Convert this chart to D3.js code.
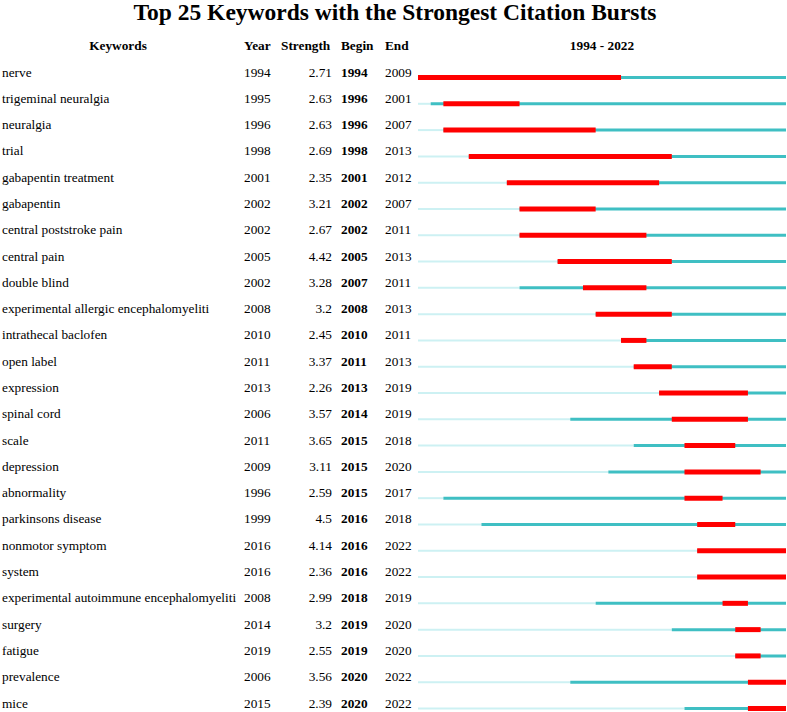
<!DOCTYPE html>
<html>
<head>
<meta charset="utf-8">
<script src="https://cdn.jsdelivr.net/npm/d3@7"></script>
<style>
    body { margin: 0; background: #fff; }
    svg { display: block; font-family: "Liberation Serif", "Times New Roman", serif; }
</style>
</head>
<body>
<div id="container"></div>
<script>
const keywords = ['nerve', 'trigeminal neuralgia', 'neuralgia', 'trial', 'gabapentin treatment',
    'gabapentin', 'central poststroke pain', 'central pain', 'double blind',
    'experimental allergic encephalomyeliti', 'intrathecal baclofen', 'open label', 'expression',
    'spinal cord', 'scale', 'depression', 'abnormality', 'parkinsons disease', 'nonmotor symptom',
    'system', 'experimental autoimmune encephalomyeliti', 'surgery', 'fatigue', 'prevalence', 'mice']
const years = [1994, 1995, 1996, 1998, 2001, 2002, 2002, 2005, 2002, 2008, 2010, 2011, 2013,
    2006, 2011, 2009, 1996, 1999, 2016, 2016, 2008, 2014, 2019, 2006, 2015]
const strengths = [2.71, 2.63, 2.63, 2.69, 2.35, 3.21, 2.67, 4.42, 3.28, 3.2, 2.45, 3.37, 2.26,
    3.57, 3.65, 3.11, 2.59, 4.5, 4.14, 2.36, 2.99, 3.2, 2.55, 3.56, 2.39]
const begins = [1994, 1996, 1996, 1998, 2001, 2002, 2002, 2005, 2007, 2008, 2010, 2011, 2013,
    2014, 2015, 2015, 2015, 2016, 2016, 2016, 2018, 2019, 2019, 2020, 2020]
const ends = [2009, 2001, 2007, 2013, 2012, 2007, 2011, 2013, 2011, 2013, 2011, 2013, 2019,
    2019, 2018, 2020, 2017, 2018, 2022, 2022, 2019, 2020, 2020, 2022, 2022]
const firstYear = 1994
const lastYear = 2022

const width = 787
const height = 712

const svg = d3.select('#container')
    .append('svg')
    .attr('width', width)
    .attr('height', height)

const dataset = keywords.map((k, i) => ({
    keyword: k, year: years[i], strength: strengths[i], begin: begins[i], end: ends[i]
}))

// one year = one slot, the end year is included
const xScale = d3.scaleLinear()
    .domain([firstYear, lastYear + 1])
    .range([418, 786])

const yScale = d3.scalePoint()
    .domain(keywords)
    .range([77.5, 708.5])

const fontSize = 13.3

svg.append('text')
    .attr('x', 395)
    .attr('y', 20)
    .attr('text-anchor', 'middle')
    .attr('font-weight', 'bold')
    .attr('font-size', 23.5)
    .text('Top 25 Keywords with the Strongest Citation Bursts')

// header
const header = svg.append('g')
    .attr('font-weight', 'bold')
    .attr('font-size', fontSize)
    .attr('transform', 'translate(0, 50)')

header.append('text').attr('x', 118).attr('text-anchor', 'middle').text('Keywords')
header.append('text').attr('x', 244).text('Year')
header.append('text').attr('x', 281).text('Strength')
header.append('text').attr('x', 341).text('Begin')
header.append('text').attr('x', 385).text('End')
header.append('text').attr('x', xScale((firstYear + lastYear + 1) / 2)).attr('text-anchor', 'middle')
    .text(`${firstYear} - ${lastYear}`)

const rows = svg.selectAll('g.row').data(dataset)
    .join('g')
    .attr('class', 'row')
    .attr('font-size', fontSize)
    .attr('transform', d => `translate(0, ${yScale(d.keyword)})`)

rows.append('text').attr('x', 2).attr('y', -1).text(d => d.keyword)
rows.append('text').attr('x', 244).attr('y', -1).text(d => d.year)
rows.append('text').attr('x', 332).attr('y', -1).attr('text-anchor', 'end').text(d => d.strength)
rows.append('text').attr('x', 341).attr('y', -1).attr('font-weight', 'bold').text(d => d.begin)
rows.append('text').attr('x', 385).attr('y', -1).text(d => d.end)

// before the keyword appears
rows.filter(d => d.year > firstYear)
    .append('line')
    .attr('x1', xScale(firstYear))
    .attr('x2', d => xScale(d.year))
    .attr('stroke', '#cdf1f3')
    .attr('stroke-width', 2)

// keyword present
rows.append('line')
    .attr('x1', d => xScale(d.year))
    .attr('x2', xScale(lastYear + 1))
    .attr('stroke', '#3fbfc3')
    .attr('stroke-width', 3)

// burst
rows.append('line')
    .attr('x1', d => xScale(d.begin))
    .attr('x2', d => xScale(d.end + 1))
    .attr('stroke', '#ff0000')
    .attr('stroke-width', 5)
</script>
</body>
</html>
